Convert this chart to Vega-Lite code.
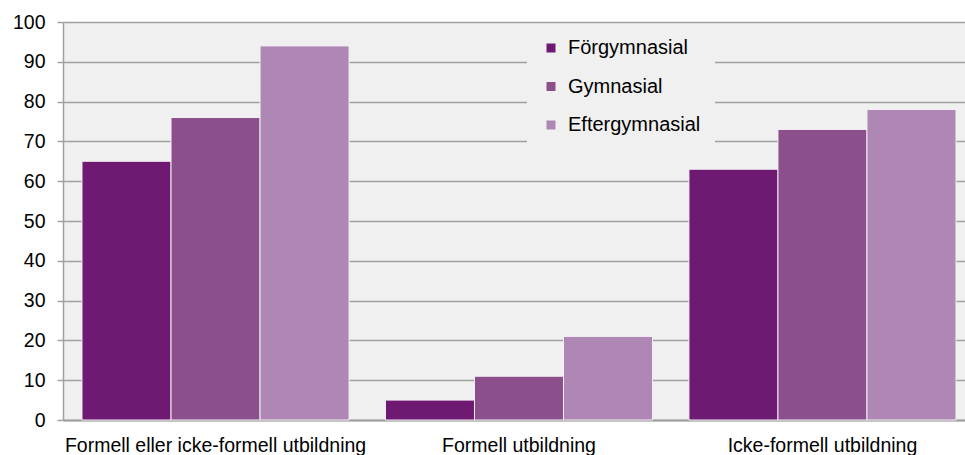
{
  "$schema": "https://vega.github.io/schema/vega-lite/v6.json",
  "autosize": {"type": "none"},
  "width": 912,
  "height": 398,
  "padding": {"left": 63, "top": 22, "right": 0, "bottom": 35},
  "background": "white",
  "config": {
    "view": {"fill": "#F0F0F0", "stroke": null},
    "font": "Liberation Sans"
  },
  "data": {
    "values": [
      {"kategori": "Formell eller icke-formell utbildning", "utbildning": "Förgymnasial", "andel": 65},
      {"kategori": "Formell eller icke-formell utbildning", "utbildning": "Gymnasial", "andel": 76},
      {"kategori": "Formell eller icke-formell utbildning", "utbildning": "Eftergymnasial", "andel": 94},
      {"kategori": "Formell utbildning", "utbildning": "Förgymnasial", "andel": 5},
      {"kategori": "Formell utbildning", "utbildning": "Gymnasial", "andel": 11},
      {"kategori": "Formell utbildning", "utbildning": "Eftergymnasial", "andel": 21},
      {"kategori": "Icke-formell utbildning", "utbildning": "Förgymnasial", "andel": 63},
      {"kategori": "Icke-formell utbildning", "utbildning": "Gymnasial", "andel": 73},
      {"kategori": "Icke-formell utbildning", "utbildning": "Eftergymnasial", "andel": 78}
    ]
  },
  "mark": {"type": "bar", "stroke": "#F4EEF5", "strokeWidth": 1},
  "encoding": {
    "x": {
      "field": "kategori",
      "type": "nominal",
      "sort": null,
      "title": null,
      "scale": {"paddingInner": 0.12, "paddingOuter": 0.0626},
      "axis": {
        "labelAngle": 0,
        "labelFontSize": 19.5,
        "labelLimit": 0,
        "labelColor": "#000000",
        "labelPadding": 16,
        "ticks": false,
        "domainColor": "#A0A0A0",
        "domainWidth": 2,
        "grid": false
      }
    },
    "xOffset": {
      "field": "utbildning",
      "type": "nominal",
      "sort": ["Förgymnasial", "Gymnasial", "Eftergymnasial"],
      "scale": {"paddingInner": 0, "paddingOuter": 0}
    },
    "y": {
      "field": "andel",
      "type": "quantitative",
      "title": null,
      "scale": {"domain": [0, 100], "nice": false},
      "axis": {
        "values": [0, 10, 20, 30, 40, 50, 60, 70, 80, 90, 100],
        "labelFontSize": 19.5,
        "labelColor": "#000000",
        "labelPadding": 12,
        "tickSize": 6,
        "tickColor": "#A0A0A0",
        "tickWidth": 1.5,
        "domainColor": "#A0A0A0",
        "domainWidth": 1.5,
        "gridColor": "#A0A0A0",
        "gridWidth": 1.5
      }
    },
    "color": {
      "field": "utbildning",
      "type": "nominal",
      "sort": ["Förgymnasial", "Gymnasial", "Eftergymnasial"],
      "scale": {
        "domain": ["Förgymnasial", "Gymnasial", "Eftergymnasial"],
        "range": ["#6E1A73", "#8B508C", "#AE87B4"]
      },
      "legend": {
        "title": null,
        "orient": "none",
        "legendX": 464,
        "legendY": 2,
        "padding": 14,
        "symbolType": "square",
        "symbolSize": 81,
        "symbolStrokeWidth": 0,
        "labelFontSize": 20,
        "labelColor": "#000000",
        "labelOffset": 7,
        "rowPadding": 18.5,
        "fillColor": "#F0F0F0"
      }
    }
  }
}
